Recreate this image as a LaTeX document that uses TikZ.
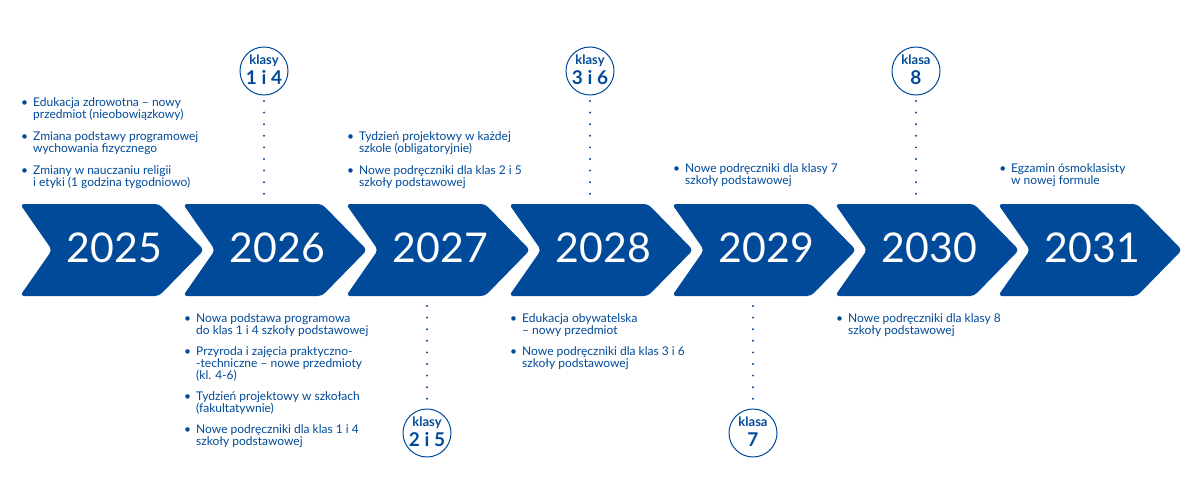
\documentclass[tikz,border=0pt]{standalone}
\usepackage{fontspec}
\setmainfont{Lato}
\definecolor{tblue}{RGB}{0,74,153}
\newcommand\tightlines{\lineskiplimit=-6pt\relax\lineskip=0pt\relax}
\tikzset{
  chev/.style={fill=tblue, rounded corners=4pt},
  yeartxt/.style={text=white, font=\fontsize{41}{41}\selectfont, inner sep=0},
  blk/.style={text=tblue, align=left, inner sep=0, anchor=north west, font=\fontsize{12}{12}\selectfont\tightlines},
  klasa/.style={circle, draw=tblue, line width=1pt, minimum size=48pt, inner sep=0},
  klw/.style={text=tblue, inner sep=0, anchor=base, font=\fontsize{13}{13}\selectfont\bfseries},
  kln/.style={text=tblue, inner sep=0, anchor=base, font=\fontsize{19}{19}\selectfont\bfseries},
  dotline/.style={draw=tblue, line width=2.2pt, line cap=round, dash pattern=on 0pt off 11.6pt}
}
\newcommand\bul{\leavevmode\llap{\textbullet\hspace{5pt}}\strut}
\begin{document}
\begin{tikzpicture}[x=1pt, y=-1pt]
\useasboundingbox (0,0) rectangle (1200,500);
% chevrons
\foreach \L/\Y/\n in {20/2025/a1, 183/2026/a2, 346/2027/a3, 509/2028/a4, 672/2029/a5, 835/2030/a6, 998/2031/a7}{
  \path[chev] (\L,204) -- (\L+139,204) -- (\L+184,250) -- (\L+139,296) -- (\L,296) -- (\L+32,250) -- cycle;
  \node[yeartxt] (\n) at (\L+94.5,247.5) {\Y};
}
% circles
\node[klasa] (c14) at (264,71) {};
\node[klw] (c14a) at (264,64.5) {klasy};
\node[kln] (c14b) at (264,84.5) {1 i 4};
\node[klasa] (c36) at (590,71) {};
\node[klw] (c36a) at (590,64.5) {klasy};
\node[kln] (c36b) at (590,84.5) {3 i 6};
\node[klasa] (c8) at (916,71) {};
\node[klw] (c8a) at (916,64.5) {klasa};
\node[kln] (c8b) at (916,84.5) {8};
\node[klasa] (c25) at (427,433) {};
\node[klw] (c25a) at (427,426.5) {klasy};
\node[kln] (c25b) at (427,446.5) {2 i 5};
\node[klasa] (c7) at (753,433) {};
\node[klw] (c7a) at (753,426.5) {klasa};
\node[kln] (c7b) at (753,446.5) {7};
% dotted connectors
\coordinate (d14s) at (264,101); \coordinate (d14e) at (264,194);
\coordinate (d36s) at (590,101); \coordinate (d36e) at (590,194);
\coordinate (d8s) at (916,101);  \coordinate (d8e) at (916,194);
\coordinate (d25s) at (427,306); \coordinate (d25e) at (427,399);
\coordinate (d7s) at (753,306);  \coordinate (d7e) at (753,399);
\draw[dotline] (d14s) -- (d14e);
\draw[dotline] (d36s) -- (d36e);
\draw[dotline] (d8s) -- (d8e);
\draw[dotline] (d25s) -- (d25e);
\draw[dotline] (d7s) -- (d7e);
% top text blocks
\node[blk] (t25) at (33,97.6) {\bul Edukacja zdrowotna – nowy\\ przedmiot (nieobowiązkowy)\\[10pt]
  \bul Zmiana podstawy programowej\\ wychowania fizycznego\\[10pt]
  \bul Zmiany w nauczaniu religii\\ i etyki (1 godzina tygodniowo)};
\node[blk] (t27) at (359,131.6) {\bul Tydzień projektowy w każdej\\ szkole (obligatoryjnie)\\[10pt]
  \bul Nowe podręczniki dla klas 2 i 5\\ szkoły podstawowej};
\node[blk] (t29) at (685,163.6) {\bul Nowe podręczniki dla klasy 7\\ szkoły podstawowej};
\node[blk] (t31) at (1011,163.6) {\bul Egzamin ósmoklasisty\\ w nowej formule};
% bottom text blocks
\node[blk] (b26) at (196,313.6) {\bul Nowa podstawa programowa\\ do klas 1 i 4 szkoły podstawowej\\[9pt]
  \bul Przyroda i zajęcia praktyczno-\\ -techniczne – nowe przedmioty\\ (kl. 4-6)\\[9pt]
  \bul Tydzień projektowy w szkołach\\ (fakultatywnie)\\[9pt]
  \bul Nowe podręczniki dla klas 1 i 4\\ szkoły podstawowej};
\node[blk] (b28) at (522,313.6) {\bul Edukacja obywatelska\\ – nowy przedmiot\\[9pt]
  \bul Nowe podręczniki dla klas 3 i 6\\ szkoły podstawowej};
\node[blk] (b30) at (848,313.6) {\bul Nowe podręczniki dla klasy 8\\ szkoły podstawowej};
\end{tikzpicture}
\end{document}
